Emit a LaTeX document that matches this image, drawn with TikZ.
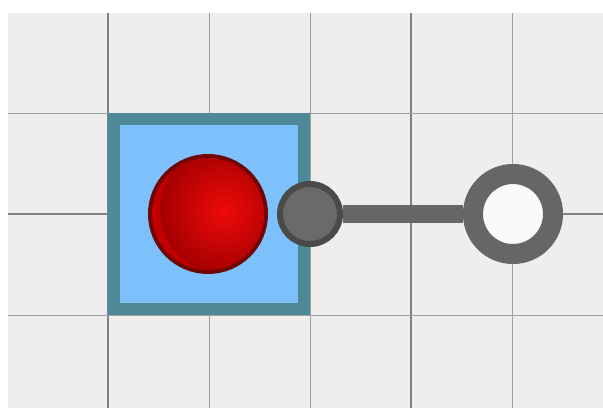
\documentclass[tikz,border=0pt]{standalone}
\usetikzlibrary{backgrounds}
\definecolor{bggray}{HTML}{EEEEEE}
\definecolor{gridA}{HTML}{808080}
\definecolor{gridB}{HTML}{A0A0A0}
\definecolor{boxfill}{HTML}{7DC1FC}
\definecolor{boxedge}{HTML}{4F8896}
\definecolor{balledge}{HTML}{700606}
\definecolor{ballfill}{HTML}{C20000}
\definecolor{ballhi}{HTML}{EE0A0A}
\definecolor{portfill}{HTML}{6A6A6A}
\definecolor{portedge}{HTML}{4A4A4A}
\definecolor{wire}{HTML}{666666}
\tikzset{
  boxnode/.style={draw=boxedge, fill=boxfill, line width=12pt, minimum size=190pt, inner sep=0pt, shape=rectangle},
  ballnode/.style={circle, draw=balledge, line width=4pt, minimum size=116pt, inner sep=0pt, fill=ballfill},
  portnode/.style={circle, draw=portedge, fill=portfill, line width=6pt, minimum size=60pt, inner sep=0pt},
  ringnode/.style={circle, draw=wire, fill=white!70!bggray, line width=20pt, minimum size=80pt, inner sep=0pt},
  wireline/.style={draw=wire, line width=18pt},
  gridmajor/.style={draw=gridA, line width=1.1pt},
  gridminor/.style={draw=gridB, line width=1pt}
}
\begin{document}
\begin{tikzpicture}[x=1pt,y=-1pt]
\useasboundingbox (0,0) rectangle (603,408);
\fill[white] (0,0) rectangle (603,408);
\fill[bggray] (8,13) rectangle (603,408);
\foreach \x in {209,310,512} \draw[gridminor] (\x,13) -- (\x,408);
\foreach \x in {108,411} \draw[gridmajor] (\x,13) -- (\x,408);
\foreach \y in {113,315} \draw[gridminor] (8,\y) -- (603,\y);
\draw[gridmajor] (8,214) -- (603,214);
\node[boxnode] (box) at (209,214) {};
\node[ballnode] (ball) at (208,214) {};
\begin{scope}
\clip (ball.center) circle (56pt);
\shade[inner color=ballhi, outer color=ballfill!85!black] ([xshift=16pt,yshift=4pt]ball.center) circle (64pt);
\end{scope}
\node[portnode] (port) at (310,214) {};
\node[ringnode] (ring) at (513,214) {};
\draw[wireline] (port.east) -- (ring.west);
\end{tikzpicture}
\end{document}
